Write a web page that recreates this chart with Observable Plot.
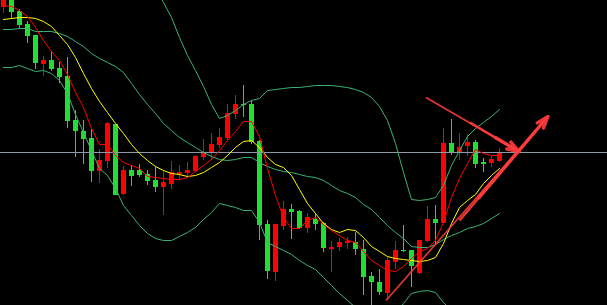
<!DOCTYPE html>
<html><head><meta charset="utf-8">
<script src="https://cdn.jsdelivr.net/npm/d3@7"></script>
<script src="https://cdn.jsdelivr.net/npm/@observablehq/plot@0.6"></script>
<style>html,body{margin:0;padding:0;background:#000;overflow:hidden}</style>
</head><body><div id="chart"></div>
<script>
// OHLC candles (arbitrary price units)
const open  = [298,308,294,281,270,241,245,237,229,185, 174,167,134,144,181,111,135,135,131,125, 118,121,131,132,134,148,152,160,167,191, 201,201,164,81,33,79,96,94,77,86, 82,56,58,62,63,56,29,23,12,43, 55,55,32,64,86,82,162,153,159,163, 143,142,144];
const high  = [313,311,296,284,270,249,254,243,248,195, 185,176,156,183,181,139,140,141,135,138, 135,144,140,143,150,166,172,177,201,210, 220,205,165,85,81,104,101,95,92,92, 83,64,67,68,73,65,33,36,48,64, 80,55,65,99,100,177,186,172,171,165, 147,149,157];
const low   = [292,286,276,262,236,229,234,222,177,148, 141,123,122,137,110,110,119,128,120,113, 90,116,125,127,133,145,145,157,165,186, 188,161,65,26,24,75,66,76,72,75, 53,33,54,56,50,10,0,10,5,36, 53,18,31,63,60,82,150,145,149,137, 133,138,143];
const close = [307,293,280,269,242,245,236,228,184,174, 166,134,145,182,110,135,129,130,124,118, 123,133,133,135,149,153,161,168,192,201, 200,163,80,34,81,96,93,77,88,81, 57,58,63,64,56,28,23,13,45,55, 54,39,65,86,82,162,152,158,163,141, 141,146,153];

// Moving averages
const ma5  = [300,299,295,289,278,265,254,245,231,213, 198,177,161,161,150,143,140,137,129,128, 127,126,126,128,134,140,146,155,165,174, 184,184,169,137,110,88,77,77,85,88, 81,75,70,65,63,54,45,40,35,34, 39,47,54,57,65,83,108,127,142,156, 152,150,150];
const ma10 = [286,287,288,288,287,284,279,270,261,248, 232,217,204,193,182,172,161,152,145,139, 135,132,131,129,130,133,138,143,150,158, 164,165,158,148,141,138,130,116,102,92, 82,76,73,76,75,68,59,54,49,47, 46,45,44,45,48,62,82,98,105,111, 122,130,137];

// Bollinger bands
const bollUp  = [314,314,314,317,314,313,316,319,326,337, 345,349,357,356,361,366,354,342,330,317, 303,288,268,250,235,219,201,187,190,195, 201,205,207,215,216,217,218,218,219,220, 220,220,219,218,216,213,208,199,185,162, 133,106,105,106,108,120,140,155,169,177, 183,189,196];
const bollMid = [276,276,277,277,274,274,274,272,269,264, 259,252,247,243,239,233,222,211,201,192, 182,175,168,163,158,153,149,146,145,146, 148,148,143,139,136,134,133,131,129,128, 125,120,115,112,108,101,96,88,80,73, 67,59,58,58,61,66,70,73,77,79, 82,87,92];
const bollLow = [238,238,240,237,234,235,232,225,212,191, 173,155,137,130,117,100,90,80,72,67, 65,65,69,73,78,86,93,102,100,98, 95,95,83,63,59,55,51,45,40,36, 28,20,12,5,-2,-10,-15,-17,-15,-8, 2,12,14,15,13,3,-5,-10,-13,-15, -17,-18,-17];

// Current price level line
const priceLevel = [153];

// Hand-drawn arrows (bar index, price): tail, point where the stroke thickens, tip
const arrowTailX = [52.81, 47.81];
const arrowTailY = [208, 5];
const arrowMidX  = [58.3, 57.0];
const arrowMidY  = [183, 85];
const arrowTipX  = [64.44, 68.06];
const arrowTipY  = [154, 189];

const UP = "#ff0000", DOWN = "#22dd33", BAND = "#3cb371", ARROW = "#ff3c3c";

const candles = open.map((o, i) => ({i, open: o, high: high[i], low: low[i], close: close[i], up: close[i] > o}));
const series = (arr) => arr.map((v, i) => ({i, v}));
const arrows = arrowTailX.map((x, k) => ({
  x1: x, y1: arrowTailY[k], xm: arrowMidX[k], ym: arrowMidY[k], x2: arrowTipX[k], y2: arrowTipY[k]
}));

const chart = Plot.plot({
  width: 607, height: 305, margin: 0,
  style: {background: "#000", overflow: "hidden"},
  x: {type: "linear", domain: [-0.375, 75.5], axis: null},
  y: {type: "linear", domain: [0, 305], axis: null},
  marks: [
    Plot.ruleX(candles, {filter: d => d.up, x: "i", y1: "low", y2: "high", stroke: UP, strokeWidth: 1, clip: true}),
    Plot.ruleX(candles, {filter: d => !d.up, x: "i", y1: "low", y2: "high", stroke: DOWN, strokeWidth: 1, clip: true}),
    Plot.ruleX(candles, {filter: d => d.up, x: "i", y1: "open", y2: "close", stroke: UP, strokeWidth: 5, clip: true}),
    Plot.ruleX(candles, {filter: d => !d.up, x: "i", y1: "open", y2: "close", stroke: DOWN, strokeWidth: 5, clip: true}),
    Plot.ruleY(priceLevel, {stroke: "#8d99a8", strokeWidth: 1}),
    Plot.line(series(bollUp), {x: "i", y: "v", stroke: BAND, strokeWidth: 1, clip: true}),
    Plot.line(series(bollMid), {x: "i", y: "v", stroke: BAND, strokeWidth: 1, clip: true}),
    Plot.line(series(bollLow), {x: "i", y: "v", stroke: BAND, strokeWidth: 1, clip: true}),
    Plot.line(series(ma10), {x: "i", y: "v", stroke: "#ffff00", strokeWidth: 1, clip: true}),
    Plot.line(series(ma5), {x: "i", y: "v", stroke: "#ff0000", strokeWidth: 1, clip: true}),
    Plot.link(arrows, {x1: "x1", y1: "y1", x2: "x2", y2: "y2", stroke: ARROW, strokeWidth: 1.6, strokeOpacity: 0.9}),
    Plot.link(arrows, {x1: "xm", y1: "ym", x2: "x2", y2: "y2", stroke: ARROW, strokeWidth: 2.6, strokeOpacity: 0.9}),
    Plot.arrow(arrows, {x1: "xm", y1: "ym", x2: "x2", y2: "y2", stroke: ARROW, strokeWidth: 3.4, headLength: 5.5, headAngle: 38, insetStart: 30, strokeOpacity: 0.92})
  ]
});
document.getElementById("chart").appendChild(chart);
</script>
</body></html>
